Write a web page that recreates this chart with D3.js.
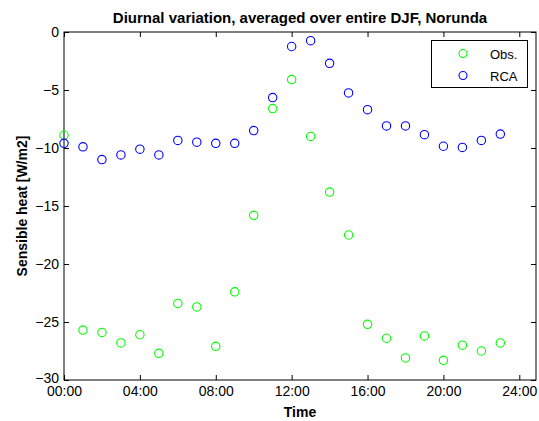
<!DOCTYPE html>
<html>
<head>
<meta charset="utf-8">
<script src="https://cdn.jsdelivr.net/npm/d3@7"></script>
<style>
  body { margin: 0; background: #fff; }
  svg { font-family: "Liberation Sans", Arial, sans-serif; }
</style>
</head>
<body>
<div id="vis-holder"></div>
<script>
// Hours of day
const hours = d3.range(0, 24);

// Observed sensible heat (W/m2)
const obs = [-8.9, -25.7, -25.9, -26.8, -26.1, -27.7, -23.4, -23.7, -27.1, -22.4,
             -15.8, -6.6, -4.1, -9.0, -13.8, -17.5, -25.2, -26.4, -28.1, -26.2,
             -28.3, -27.0, -27.5, -26.8];

// RCA model sensible heat (W/m2)
const rca = [-9.6, -9.9, -11.0, -10.6, -10.1, -10.6, -9.35, -9.5, -9.6, -9.6,
             -8.5, -5.65, -1.25, -0.75, -2.7, -5.25, -6.7, -8.1, -8.1, -8.85,
             -9.85, -9.95, -9.35, -8.8];

const xTicks = [0, 4, 8, 12, 16, 20, 24];
const xTickLabels = ["00:00", "04:00", "08:00", "12:00", "16:00", "20:00", "24:00"];
const yTicks = [0, -5, -10, -15, -20, -25, -30];

const series = [
  { name: "Obs.", values: obs, color: "#00ff00" },
  { name: "RCA", values: rca, color: "#0000ff" }
];

// Set margins and dimensions
const W = 539, H = 421;
const margin = { top: 32, right: 3, bottom: 41, left: 64 };

const svg = d3.select("#vis-holder")
  .append("svg")
  .attr("width", W)
  .attr("height", H);

const x = d3.scaleLinear()
  .domain([0, 24.88])
  .range([margin.left, W - margin.right]);

const y = d3.scaleLinear()
  .domain([-30, 0])
  .range([H - margin.bottom, margin.top]);

const tickLen = 5;

// Bottom axis
svg.append("g")
  .attr("transform", `translate(0,${H - margin.bottom})`)
  .call(d3.axisBottom(x).tickValues(xTicks)
          .tickFormat((d, i) => xTickLabels[i])
          .tickSizeInner(-tickLen).tickSizeOuter(0).tickPadding(6.5))
  .call((g) => g.select(".domain").remove())
  .attr("font-size", "14px")
  .attr("font-family", null);

// Top axis (ticks only)
svg.append("g")
  .attr("transform", `translate(0,${margin.top})`)
  .call(d3.axisTop(x).tickValues(xTicks).tickFormat("")
          .tickSizeInner(-tickLen).tickSizeOuter(0))
  .call((g) => g.select(".domain").remove());

// Left axis
svg.append("g")
  .attr("transform", `translate(${margin.left},0)`)
  .call(d3.axisLeft(y).tickValues(yTicks)
          .tickSizeInner(-tickLen).tickSizeOuter(0).tickPadding(5))
  .call((g) => g.select(".domain").remove())
  .attr("font-size", "14px")
  .attr("font-family", null)
  // nudge the bottom label up a little, like the reference
  .call((g) => g.selectAll(".tick text").filter((d) => d === -30).attr("dy", "0.2em"));

// Right axis (ticks only)
svg.append("g")
  .attr("transform", `translate(${W - margin.right},0)`)
  .call(d3.axisRight(y).tickValues(yTicks).tickFormat("")
          .tickSizeInner(-tickLen).tickSizeOuter(0))
  .call((g) => g.select(".domain").remove());

svg.selectAll(".tick text").attr("fill", "#000");
svg.selectAll(".tick line").attr("stroke", "#000");

// Axes box
svg.append("rect")
  .attr("x", margin.left)
  .attr("y", margin.top)
  .attr("width", W - margin.right - margin.left)
  .attr("height", H - margin.bottom - margin.top)
  .attr("fill", "none")
  .attr("stroke", "#000")
  .attr("stroke-width", 1);

// Points
series.forEach((s) => {
  svg.append("g")
    .selectAll("circle")
    .data(s.values)
    .enter()
      .append("circle")
      .attr("cx", (d, i) => x(hours[i]))
      .attr("cy", (d) => y(d))
      .attr("r", 4.2)
      .attr("fill", "none")
      .attr("stroke", s.color)
      .attr("stroke-width", 1.1);
});

// Title and labels
svg.append("text")
  .attr("x", (margin.left + W - margin.right) / 2)
  .attr("y", 23)
  .attr("text-anchor", "middle")
  .attr("font-size", "15px")
  .attr("font-weight", "bold")
  .text("Diurnal variation, averaged over entire DJF, Norunda");

svg.append("text")
  .attr("x", (margin.left + W - margin.right) / 2)
  .attr("y", 417)
  .attr("text-anchor", "middle")
  .attr("font-size", "14px")
  .attr("font-weight", "bold")
  .text("Time");

svg.append("text")
  .attr("transform", `translate(27,${(margin.top + H - margin.bottom) / 2}) rotate(-90)`)
  .attr("text-anchor", "middle")
  .attr("font-size", "14px")
  .attr("font-weight", "bold")
  .text("Sensible heat [W/m2]");

// Legend
const legend = svg.append("g");
legend.append("rect")
  .attr("x", 431.5)
  .attr("y", 40.5)
  .attr("width", 96)
  .attr("height", 47)
  .attr("fill", "#fff")
  .attr("stroke", "#000");

series.forEach((s, i) => {
  const ly = 53.5 + i * 22;
  legend.append("circle")
    .attr("cx", 463)
    .attr("cy", ly)
    .attr("r", 4)
    .attr("fill", "none")
    .attr("stroke", s.color)
    .attr("stroke-width", 1.1);
  legend.append("text")
    .attr("x", 490)
    .attr("y", ly + 5)
    .attr("font-size", "13px")
    .text(s.name);
});
</script>
</body>
</html>
